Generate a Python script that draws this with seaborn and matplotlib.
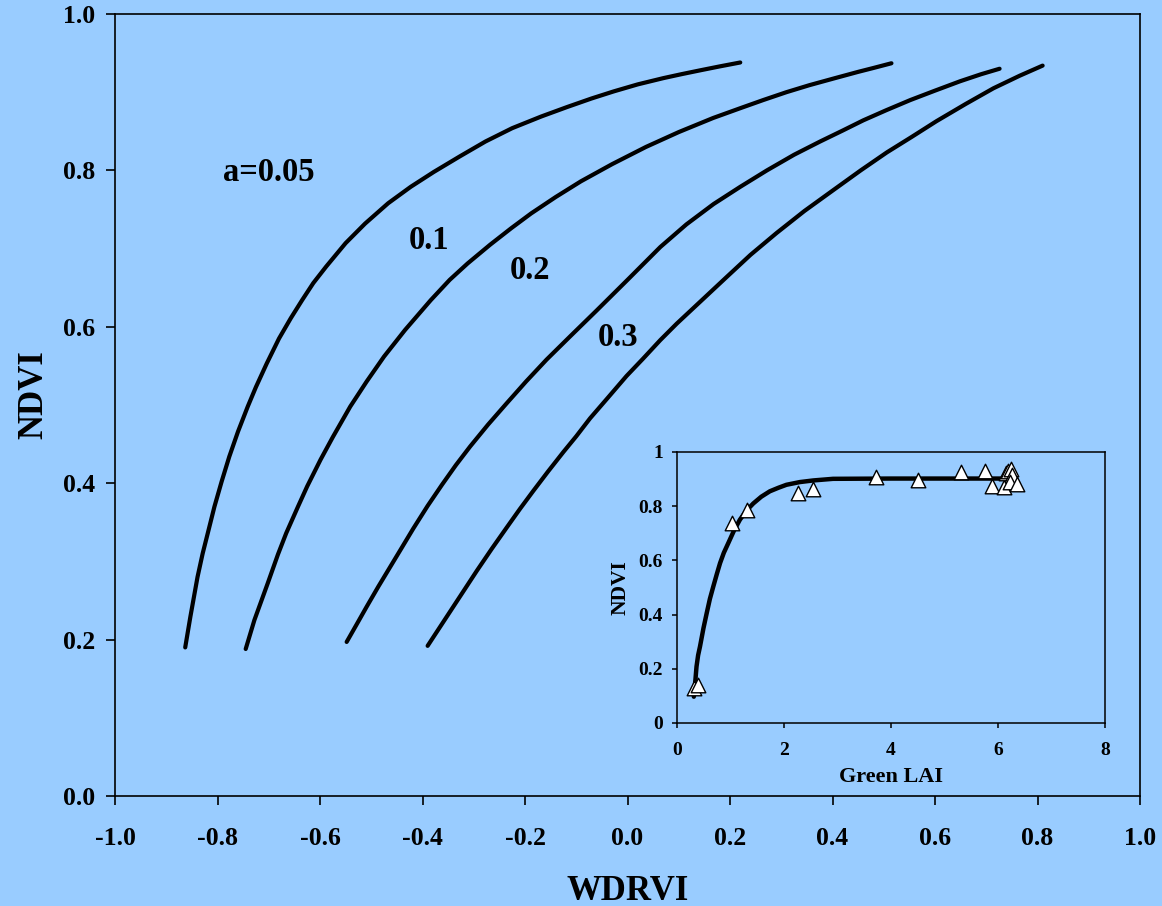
import numpy as np
import pandas as pd
import matplotlib
matplotlib.use("Agg")
import matplotlib.pyplot as plt
import seaborn as sns

# NDVI vs WDRVI curves for four weighting coefficients a
wdrvi_a005 = [-0.863, -0.853, -0.839, -0.829, -0.819, -0.806, -0.792, -0.777, -0.760,
              -0.741, -0.725, -0.704, -0.680, -0.657, -0.635, -0.613, -0.588, -0.550,
              -0.512, -0.467, -0.423, -0.378, -0.327, -0.277, -0.225, -0.168, -0.118,
              -0.070, -0.027, 0.020, 0.070, 0.105, 0.142, 0.180, 0.220]
ndvi_a005 = [0.190, 0.229, 0.280, 0.310, 0.336, 0.370, 0.402, 0.434, 0.466,
             0.498, 0.523, 0.553, 0.585, 0.611, 0.634, 0.656, 0.677, 0.707,
             0.732, 0.758, 0.779, 0.798, 0.818, 0.837, 0.854, 0.869, 0.881,
             0.892, 0.901, 0.910, 0.918, 0.923, 0.928, 0.933, 0.938]

wdrvi_a01 = [-0.745, -0.728, -0.702, -0.682, -0.666, -0.643, -0.625, -0.599, -0.575,
             -0.541, -0.509, -0.475, -0.434, -0.384, -0.347, -0.312, -0.268, -0.227,
             -0.188, -0.140, -0.091, -0.030, 0.036, 0.100, 0.167, 0.222, 0.265,
             0.310, 0.355, 0.405, 0.450, 0.480, 0.515]
ndvi_a01 = [0.188, 0.225, 0.272, 0.309, 0.336, 0.370, 0.396, 0.430, 0.459,
            0.498, 0.530, 0.562, 0.596, 0.634, 0.660, 0.681, 0.705, 0.726,
            0.745, 0.766, 0.786, 0.808, 0.830, 0.849, 0.867, 0.880, 0.890,
            0.900, 0.909, 0.918, 0.926, 0.931, 0.937]

wdrvi_a02 = [-0.548, -0.528, -0.509, -0.486, -0.463, -0.440, -0.418, -0.390, -0.362,
             -0.335, -0.307, -0.272, -0.236, -0.198, -0.158, -0.110, -0.060, 0.000,
             0.064, 0.115, 0.168, 0.220, 0.272, 0.325, 0.376, 0.420, 0.460,
             0.505, 0.552, 0.600, 0.649, 0.690, 0.726]
ndvi_a02 = [0.197, 0.220, 0.242, 0.268, 0.293, 0.318, 0.342, 0.371, 0.398,
            0.423, 0.447, 0.475, 0.502, 0.530, 0.558, 0.589, 0.621, 0.660,
            0.702, 0.731, 0.757, 0.779, 0.800, 0.820, 0.837, 0.851, 0.864,
            0.877, 0.890, 0.902, 0.914, 0.923, 0.930]

wdrvi_a03 = [-0.390, -0.368, -0.346, -0.320, -0.294, -0.265, -0.236, -0.210, -0.184,
             -0.155, -0.125, -0.100, -0.073, -0.040, -0.002, 0.030, 0.064, 0.096,
             0.145, 0.194, 0.240, 0.291, 0.345, 0.402, 0.455, 0.506, 0.555,
             0.603, 0.660, 0.714, 0.765, 0.810]
ndvi_a03 = [0.192, 0.214, 0.236, 0.262, 0.288, 0.316, 0.343, 0.367, 0.390,
            0.415, 0.440, 0.460, 0.483, 0.508, 0.537, 0.559, 0.583, 0.604,
            0.634, 0.664, 0.692, 0.720, 0.748, 0.775, 0.800, 0.823, 0.843,
            0.863, 0.885, 0.905, 0.921, 0.934]

curve_labels = ["a=0.05", "0.1", "0.2", "0.3"]
label_x = [-0.699, -0.388, -0.191, -0.019]
label_y = [0.786, 0.699, 0.6615, 0.5754]

x_ticks = [-1.0, -0.8, -0.6, -0.4, -0.2, 0.0, 0.2, 0.4, 0.6, 0.8, 1.0]
y_ticks = [0.0, 0.2, 0.4, 0.6, 0.8, 1.0]

# Inset: NDVI vs green LAI, measured points and fitted curve
lai_obs = [0.32, 0.39, 1.04, 1.31, 2.27, 2.54, 3.73, 4.50, 5.31, 5.75,
           5.88, 6.12, 6.15, 6.19, 6.24, 6.26, 6.22, 6.36]
ndvi_obs = [0.128, 0.140, 0.738, 0.785, 0.849, 0.865, 0.906, 0.898, 0.927, 0.930,
            0.876, 0.872, 0.921, 0.930, 0.937, 0.915, 0.890, 0.882]

lai_fit = [0.32, 0.35, 0.37, 0.40, 0.435, 0.50, 0.56, 0.62, 0.684, 0.75,
           0.81, 0.88, 0.964, 1.07, 1.18, 1.30, 1.43, 1.58, 1.74, 1.90,
           2.05, 2.30, 2.55, 2.92, 4.00, 5.00, 6.13]
ndvi_fit = [0.097, 0.160, 0.208, 0.250, 0.282, 0.350, 0.405, 0.458, 0.504, 0.550,
            0.590, 0.628, 0.664, 0.710, 0.750, 0.783, 0.810, 0.835, 0.855, 0.868,
            0.879, 0.889, 0.895, 0.901, 0.902, 0.902, 0.902]

inset_x_ticks = [0, 2, 4, 6, 8]
inset_y_ticks = [0, 0.2, 0.4, 0.6, 0.8, 1.0]
inset_y_labels = ["0", "0.2", "0.4", "0.6", "0.8", "1"]

BG = "#99CCFF"
sns.set_theme(style="ticks", rc={
    "figure.facecolor": BG,
    "axes.facecolor": BG,
    "axes.edgecolor": "black",
    "axes.labelcolor": "black",
    "text.color": "black",
    "axes.linewidth": 1.2,
    "xtick.color": "black",
    "ytick.color": "black",
})
plt.rcParams["font.family"] = ["Liberation Serif", "DejaVu Serif"]
plt.rcParams["font.weight"] = "bold"

fig = plt.figure(figsize=(11.62, 9.06), dpi=100)
ax = fig.add_axes([0.09897, 0.12141, 0.88210, 0.86314])

curves = pd.concat([
    pd.DataFrame({"WDRVI": wdrvi_a005, "NDVI": ndvi_a005, "a": "0.05"}),
    pd.DataFrame({"WDRVI": wdrvi_a01, "NDVI": ndvi_a01, "a": "0.1"}),
    pd.DataFrame({"WDRVI": wdrvi_a02, "NDVI": ndvi_a02, "a": "0.2"}),
    pd.DataFrame({"WDRVI": wdrvi_a03, "NDVI": ndvi_a03, "a": "0.3"}),
], ignore_index=True)

sns.lineplot(data=curves, x="WDRVI", y="NDVI", hue="a",
             palette=["black"] * 4, sort=False, estimator=None,
             linewidth=3.0, legend=False, ax=ax)

for txt, lx, ly in zip(curve_labels, label_x, label_y):
    ax.text(lx, ly, txt, ha="center", va="baseline", fontsize=23.5,
            fontweight="bold", color="black")

ax.set_xlim(-1.0, 1.0)
ax.set_ylim(0.0, 1.0)
ax.set_xticks(x_ticks)
ax.set_xticklabels([f"{v:.1f}" for v in x_ticks])
ax.set_yticks(y_ticks)
ax.set_yticklabels([f"{v:.1f}" for v in y_ticks])
ax.tick_params(axis="x", length=6.5, width=1.2, pad=16, labelsize=18.5)
ax.tick_params(axis="y", length=6.5, width=1.2, pad=8, labelsize=18.5)
for lbl in ax.get_xticklabels() + ax.get_yticklabels():
    lbl.set_fontweight("bold")
ax.set_xlabel("WDRVI", fontsize=25, fontweight="bold", labelpad=18)
ax.set_ylabel("NDVI", fontsize=25, fontweight="bold", labelpad=9)
ax.yaxis.label.set_y(0.513)
for side in ["top", "right", "left", "bottom"]:
    ax.spines[side].set_visible(True)
    ax.spines[side].set_linewidth(1.2)

# Inset panel
axi = fig.add_axes([0.58236, 0.20199, 0.36859, 0.29912])
fit_df = pd.DataFrame({"LAI": lai_fit, "NDVI": ndvi_fit})
obs_df = pd.DataFrame({"LAI": lai_obs, "NDVI": ndvi_obs})
sns.lineplot(data=fit_df, x="LAI", y="NDVI", color="black", linewidth=3.2,
             sort=False, estimator=None, ax=axi)
sns.scatterplot(data=obs_df, x="LAI", y="NDVI", marker="^", s=110,
                color="white", edgecolor="black", linewidth=1.0,
                zorder=3, ax=axi)
axi.set_xlim(0, 8)
axi.set_ylim(0, 1)
axi.set_xticks(inset_x_ticks)
axi.set_xticklabels([str(v) for v in inset_x_ticks])
axi.set_yticks(inset_y_ticks)
axi.set_yticklabels(inset_y_labels)
axi.tick_params(axis="both", length=3.8, width=1.1, labelsize=14)
axi.tick_params(axis="x", pad=10)
axi.tick_params(axis="y", pad=6)
for lbl in axi.get_xticklabels() + axi.get_yticklabels():
    lbl.set_fontweight("bold")
axi.set_xlabel("Green LAI", fontsize=16, fontweight="bold", labelpad=6)
axi.set_ylabel("NDVI", fontsize=15.5, fontweight="bold", labelpad=6)
for side in ["top", "right", "left", "bottom"]:
    axi.spines[side].set_visible(True)
    axi.spines[side].set_linewidth(1.1)

fig.savefig("out.png", dpi=100, facecolor=BG)
